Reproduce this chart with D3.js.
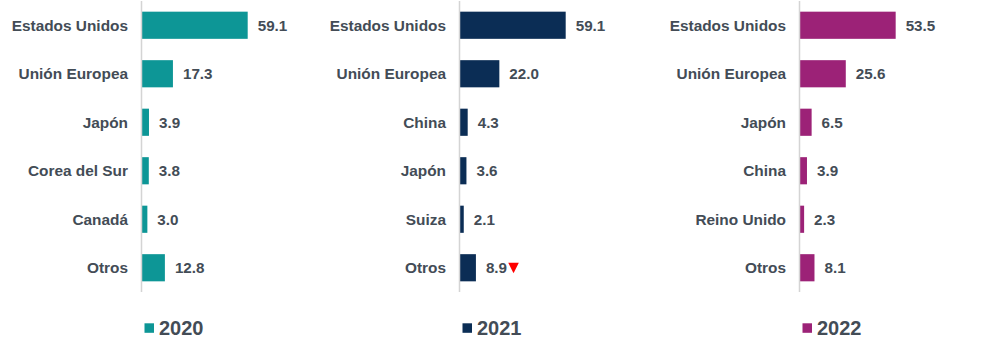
<!DOCTYPE html>
<html>
<head>
<meta charset="utf-8">
<script src="https://cdn.jsdelivr.net/npm/d3@7"></script>
<style>
  html, body { margin: 0; padding: 0; background: #ffffff; }
  svg { display: block; }
</style>
</head>
<body>
<svg id="chart" width="999" height="354"></svg>
<script>
const years = ["2020", "2021", "2022"];
const categories2020 = ["Estados Unidos", "Unión Europea", "Japón", "Corea del Sur", "Canadá", "Otros"];
const values2020 = [59.1, 17.3, 3.9, 3.8, 3.0, 12.8];
const categories2021 = ["Estados Unidos", "Unión Europea", "China", "Japón", "Suiza", "Otros"];
const values2021 = [59.1, 22.0, 4.3, 3.6, 2.1, 8.9];
const categories2022 = ["Estados Unidos", "Unión Europea", "Japón", "China", "Reino Unido", "Otros"];
const values2022 = [53.5, 25.6, 6.5, 3.9, 2.3, 8.1];
const colors = ["#0d9696", "#0b2d55", "#9c2277"];
// markers: down-triangle shown next to value (2021 "Otros")
const downMarkers2021 = ["Otros"];

const panels = [
  { year: years[0], cats: categories2020, vals: values2020, color: colors[0], axisX: 141.5, markers: [] },
  { year: years[1], cats: categories2021, vals: values2021, color: colors[1], axisX: 459.5, markers: downMarkers2021 },
  { year: years[2], cats: categories2022, vals: values2022, color: colors[2], axisX: 799.5, markers: [] }
];

const svg = d3.select("#chart");
const textColor = "#434c56";
const font = "Liberation Sans, Arial, Helvetica, sans-serif";

panels.forEach(p => {
  const g = svg.append("g");
  const x = d3.scaleLinear().domain([0, 60]).range([p.axisX, p.axisX + 107.3]);
  const y = d3.scaleBand().domain(p.cats).range([1, 292]).paddingInner(0.44).paddingOuter(0.22);

  g.selectAll("rect.bar").data(p.cats).join("rect")
    .attr("class", "bar")
    .attr("x", x(0) + 0.5)
    .attr("y", d => y(d))
    .attr("width", (d, i) => x(p.vals[i]) - x(0))
    .attr("height", y.bandwidth())
    .attr("fill", p.color);

  // axis line
  g.append("line")
    .attr("x1", x(0)).attr("x2", x(0))
    .attr("y1", 1).attr("y2", 292)
    .attr("stroke", "#d4d4d4").attr("stroke-width", 1.5);

  // category labels
  g.selectAll("text.cat").data(p.cats).join("text")
    .attr("class", "cat")
    .attr("x", x(0) - 13.5)
    .attr("y", d => y(d) + y.bandwidth() / 2 + 5.4)
    .attr("text-anchor", "end")
    .attr("font-family", font).attr("font-weight", "bold").attr("font-size", 15.4)
    .attr("fill", textColor)
    .text(d => d);

  // value labels
  const vl = g.selectAll("text.val").data(p.cats).join("text")
    .attr("class", "val")
    .attr("x", (d, i) => x(p.vals[i]) + 10.5)
    .attr("y", d => y(d) + y.bandwidth() / 2 + 5.4)
    .attr("font-family", font).attr("font-weight", "bold").attr("font-size", 15.2)
    .attr("fill", textColor)
    .text((d, i) => p.vals[i].toFixed(1));

  vl.each(function(d, i) {
    if (p.markers.includes(d)) {
      const bb = this.getBBox();
      const cx = bb.x + bb.width + 6.5;
      const cy = y(d) + y.bandwidth() / 2;
      g.append("path")
        .attr("d", `M${cx - 5.3},${cy - 5} L${cx + 5.3},${cy - 5} L${cx},${cy + 5.5} Z`)
        .attr("fill", "#ff0000");
    }
  });

  // legend
  g.append("rect")
    .attr("x", x(0) + 3).attr("y", 323.3)
    .attr("width", 9.5).attr("height", 9.5)
    .attr("fill", p.color);
  g.append("text")
    .attr("x", x(0) + 17.5).attr("y", 334.5)
    .attr("font-family", font).attr("font-weight", "bold").attr("font-size", 20)
    .attr("fill", textColor)
    .text(p.year);
});
</script>
</body>
</html>
